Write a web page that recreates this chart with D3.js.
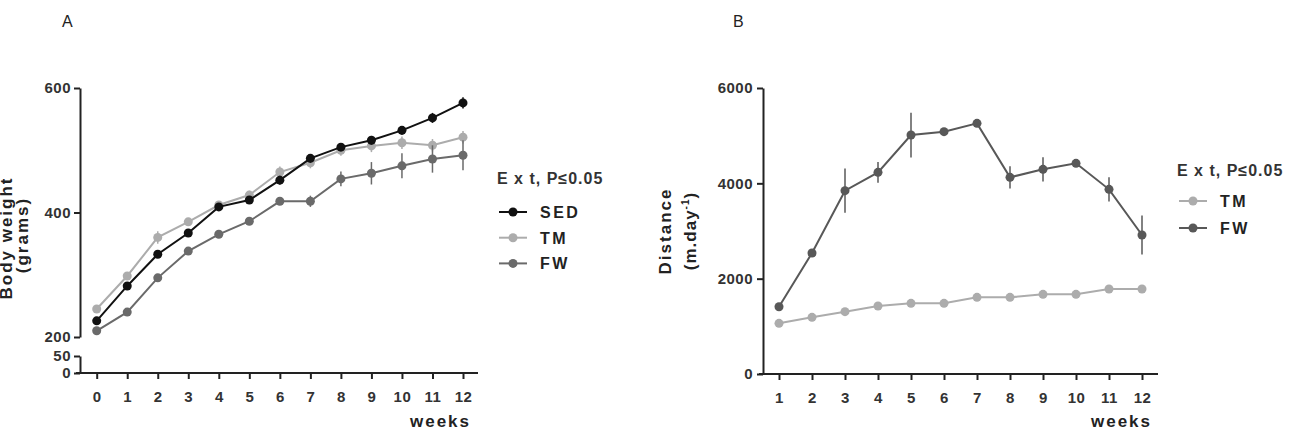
<!DOCTYPE html>
<html>
<head>
<meta charset="utf-8">
<script src="https://cdn.jsdelivr.net/npm/d3@7"></script>
<style>
  body { margin: 0; background: #fff; }
  text { font-family: "Liberation Sans", Arial, sans-serif; fill: #222; }
</style>
</head>
<body>
<div id="chart"></div>
<script>
// panel A: body weight
const weeksA = [0, 1, 2, 3, 4, 5, 6, 7, 8, 9, 10, 11, 12];
const sedMean = [226, 282, 333, 367, 409, 420, 452, 487, 505, 516, 532, 552, 576];
const sedErr  = [4, 5, 6, 6, 5, 6, 7, 7, 6, 7, 7, 8, 9];
const tmMeanA = [245, 298, 360, 385, 412, 428, 465, 480, 500, 507, 512, 508, 521];
const tmErrA  = [5, 6, 10, 6, 6, 7, 9, 9, 9, 10, 10, 10, 10];
const fwMeanA = [210, 240, 295, 338, 365, 386, 418, 418, 454, 463, 475, 486, 492];
const fwErrA  = [5, 5, 6, 6, 5, 6, 6, 9, 12, 18, 20, 22, 24];

// panel B: running distance
const weeksB = [1, 2, 3, 4, 5, 6, 7, 8, 9, 10, 11, 12];
const tmMeanB = [1063, 1189, 1308, 1426, 1482, 1482, 1608, 1608, 1671, 1671, 1783, 1783];
const tmErrB  = [40, 40, 40, 40, 40, 40, 40, 40, 40, 40, 40, 40];
const fwMeanB = [1412, 2538, 3846, 4230, 5013, 5084, 5258, 4126, 4294, 4420, 3874, 2916];
const fwErrB  = [60, 60, 465, 220, 470, 60, 60, 235, 255, 60, 255, 410];

const legendTitle = "E x t, P\u22640.05";

const svg = d3.select('#chart').append('svg')
  .attr('width', 1296)
  .attr('height', 438);

const axisStyle = (g) => {
  g.selectAll('path, line').attr('stroke', '#222').attr('stroke-width', 2);
  g.selectAll('text')
    .style('font-size', '15px')
    .style('font-weight', 'bold')
    .style('letter-spacing', '0.5px')
    .style('fill', '#333');
};

const labelStyle = (t) => t
  .style('font-size', '17px')
  .style('font-weight', 'bold')
  .style('letter-spacing', '2px');

function drawSeries(g, x, y, xs, mean, err, color) {
  const pts = xs.map((w, i) => ({ w: w, m: mean[i], e: err[i] }));
  g.selectAll(null).data(pts).enter().append('line')
    .attr('x1', d => x(d.w)).attr('x2', d => x(d.w))
    .attr('y1', d => y(d.m - d.e)).attr('y2', d => y(d.m + d.e))
    .attr('stroke', color).attr('stroke-width', 1.5);
  g.append('path')
    .datum(pts)
    .attr('fill', 'none')
    .attr('stroke', color)
    .attr('stroke-width', 2)
    .attr('d', d3.line().x(d => x(d.w)).y(d => y(d.m)));
  g.selectAll(null).data(pts).enter().append('circle')
    .attr('cx', d => x(d.w)).attr('cy', d => y(d.m))
    .attr('r', 4.5)
    .attr('fill', color);
}

function drawLegend(x0, y0, items, first, step) {
  const lg = svg.append('g').attr('transform', 'translate(' + x0 + ',' + y0 + ')');
  lg.append('text')
    .attr('x', 0).attr('y', 0)
    .style('font-size', '16px')
    .style('font-weight', 'bold')
    .style('letter-spacing', '1px')
    .style('fill', '#333')
    .text(legendTitle);
  items.forEach((it, i) => {
    const yy = first + i * step;
    lg.append('line')
      .attr('x1', 2).attr('x2', 30).attr('y1', yy).attr('y2', yy)
      .attr('stroke', it.color).attr('stroke-width', 2);
    lg.append('circle').attr('cx', 16).attr('cy', yy).attr('r', 4.5).attr('fill', it.color);
    lg.append('text')
      .attr('x', 43).attr('y', yy + 6)
      .style('font-size', '16px')
      .style('font-weight', 'bold')
      .style('letter-spacing', '2.5px')
      .style('fill', '#222')
      .text(it.name);
  });
}

// ---------- panel A ----------
const xA = d3.scaleLinear().domain([0, 12]).range([96.7, 463]);
const yTop = d3.scaleLinear().domain([200, 600]).range([337, 88]);
const yBot = d3.scaleLinear().domain([0, 50]).range([373, 356]);

svg.append('text').attr('x', 62).attr('y', 27)
  .style('font-size', '16px').text('A');

const gA = svg.append('g');
gA.append('g')
  .attr('transform', 'translate(80,0)')
  .call(d3.axisLeft(yTop).tickValues([200, 400, 600]).tickSize(6).tickPadding(3).tickSizeOuter(0).tickFormat(d3.format('d')))
  .call(axisStyle);
gA.append('g')
  .attr('transform', 'translate(80,0)')
  .call(d3.axisLeft(yBot).tickValues([0, 50]).tickSize(6).tickPadding(3).tickSizeOuter(0).tickFormat(d3.format('d')))
  .call(axisStyle);
gA.append('g')
  .attr('transform', 'translate(0,373)')
  .call(d3.axisBottom(xA).tickValues(weeksA).tickSize(6).tickPadding(12).tickSizeOuter(0).tickFormat(d3.format('d')))
  .call(axisStyle)
  .call(g => g.select('.domain').attr('d', 'M76,0H478'));

labelStyle(gA.append('text')
  .attr('x', 471).attr('y', 427)
  .attr('text-anchor', 'end')
  .text('weeks'));
labelStyle(gA.append('text')
  .attr('transform', 'translate(12,238) rotate(-90)')
  .attr('text-anchor', 'middle')
  .text('Body weight'));
labelStyle(gA.append('text')
  .attr('transform', 'translate(28,235) rotate(-90)')
  .attr('text-anchor', 'middle')
  .text('(grams)'));

drawSeries(gA, xA, yTop, weeksA, tmMeanA, tmErrA, '#acacac');
drawSeries(gA, xA, yTop, weeksA, fwMeanA, fwErrA, '#6a6a6a');
drawSeries(gA, xA, yTop, weeksA, sedMean, sedErr, '#111111');

drawLegend(497, 184, [
  { name: 'SED', color: '#111111' },
  { name: 'TM', color: '#acacac' },
  { name: 'FW', color: '#6a6a6a' }
], 28, 25.7);

// ---------- panel B ----------
const xB = d3.scaleLinear().domain([1, 12]).range([779, 1142]);
const yB = d3.scaleLinear().domain([0, 6000]).range([374, 88]);

svg.append('text').attr('x', 733).attr('y', 27)
  .style('font-size', '16px').text('B');

const gB = svg.append('g');
gB.append('g')
  .attr('transform', 'translate(763,0)')
  .call(d3.axisLeft(yB).tickValues([0, 2000, 4000, 6000]).tickSize(6).tickPadding(4).tickSizeOuter(0).tickFormat(d3.format('d')))
  .call(axisStyle);
gB.append('g')
  .attr('transform', 'translate(0,374)')
  .call(d3.axisBottom(xB).tickValues(weeksB).tickSize(6).tickPadding(12).tickSizeOuter(0).tickFormat(d3.format('d')))
  .call(axisStyle)
  .call(g => g.select('.domain').attr('d', 'M759,0H1158'));

labelStyle(gB.append('text')
  .attr('x', 1152).attr('y', 427)
  .attr('text-anchor', 'end')
  .text('weeks'));
labelStyle(gB.append('text')
  .attr('transform', 'translate(671,231) rotate(-90)')
  .attr('text-anchor', 'middle')
  .text('Distance'));
const yLab2 = labelStyle(gB.append('text')
  .attr('transform', 'translate(696,231) rotate(-90)')
  .attr('text-anchor', 'middle'))
  .style('letter-spacing', '1px');
yLab2.append('tspan').text('(m.day');
yLab2.append('tspan').attr('dy', '-7').style('font-size', '10px').text('-1');
yLab2.append('tspan').attr('dy', '7').text(')');

drawSeries(gB, xB, yB, weeksB, tmMeanB, tmErrB, '#acacac');
drawSeries(gB, xB, yB, weeksB, fwMeanB, fwErrB, '#585858');

drawLegend(1177, 176, [
  { name: 'TM', color: '#acacac' },
  { name: 'FW', color: '#585858' }
], 25, 27);
</script>
</body>
</html>
